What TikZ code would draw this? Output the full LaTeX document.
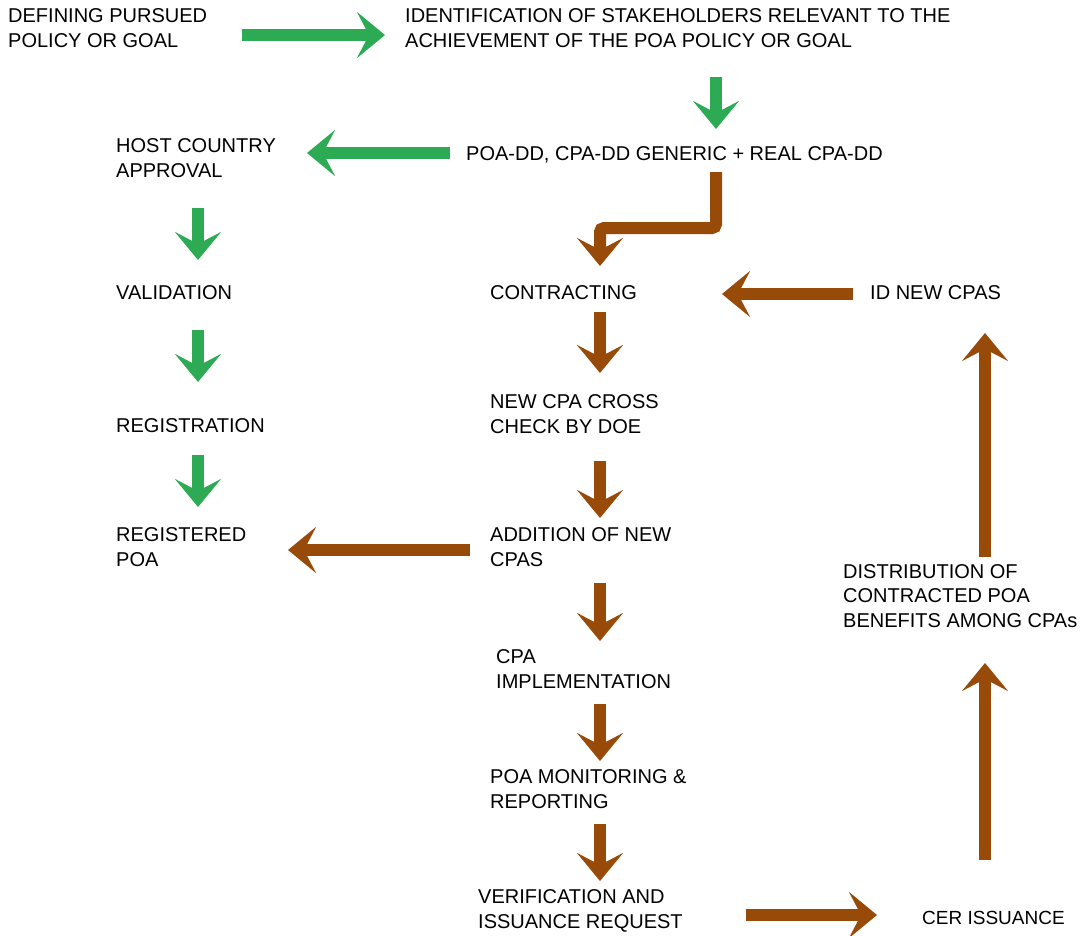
\documentclass[tikz,border=0pt]{standalone}
\usepackage{fontspec}
\setmainfont{Liberation Sans}
\usetikzlibrary{arrows.meta}
\definecolor{poagreen}{RGB}{44,170,84}
\definecolor{cpabrown}{RGB}{152,74,8}

\begin{document}
\begin{tikzpicture}[x=1pt,y=-1pt]
	\tikzset{step text/.style = {anchor=west,align=left,inner sep=0pt,font=\fontsize{20}{24.5}\selectfont}}
	\tikzstyle{flow} = [line width=12pt,-{Stealth[length=28pt,width=46pt,inset=12pt]}]
	\tikzstyle{greenFlow} = [flow,draw=poagreen]
	\tikzstyle{brownFlow} = [flow,draw=cpabrown]
	\useasboundingbox (0,0) rectangle (1091,935);
	%top row
	\node[step text] (goal) at (8,28) {DEFINING PURSUED\\POLICY OR GOAL};
	\node[step text] (stake) at (405,28) {IDENTIFICATION OF STAKEHOLDERS RELEVANT TO THE\\ACHIEVEMENT OF THE POA POLICY OR GOAL};
	%left column
	\node[step text] (host) at (116,158) {HOST COUNTRY\\APPROVAL};
	\node[step text] (valid) at (116,293) {VALIDATION};
	\node[step text] (regis) at (116,426) {REGISTRATION};
	\node[step text] (regpoa) at (116,547) {REGISTERED\\POA};
	%middle column
	\node[step text] (dd) at (466,155) {POA-DD, CPA-DD GENERIC + REAL CPA-DD};
	\node[step text] (contract) at (490,293) {CONTRACTING};
	\node[step text] (cross) at (490,414) {NEW CPA CROSS\\CHECK BY DOE};
	\node[step text] (addcpa) at (490,547) {ADDITION OF NEW\\CPAS};
	\node[step text] (impl) at (496,669) {CPA\\IMPLEMENTATION};
	\node[step text] (monit) at (490,789) {POA MONITORING \&\\REPORTING};
	\node[step text] (verif) at (478,911) {VERIFICATION AND\\ISSUANCE REQUEST};
	%right column
	\node[step text] (idnew) at (870,293) {ID NEW CPAS};
	\node[step text] (distr) at (843,596) {DISTRIBUTION OF\\CONTRACTED POA\\BENEFITS AMONG CPAs};
	\node[step text,font=\fontsize{19}{24}\selectfont] (cer) at (922,918) {CER ISSUANCE};
	%arrow ends
	\coordinate (g1a) at (242,35);  \coordinate (g1b) at (385,35);
	\coordinate (g2a) at (716,77);  \coordinate (g2b) at (716,129);
	\coordinate (g3a) at (450,153); \coordinate (g3b) at (307,153);
	\coordinate (g4a) at (198,208); \coordinate (g4b) at (198,260);
	\coordinate (g5a) at (198,330); \coordinate (g5b) at (198,382);
	\coordinate (g6a) at (198,455); \coordinate (g6b) at (198,507);
	\coordinate (b1a) at (716,172); \coordinate (b1m) at (716,228);
	\coordinate (b1n) at (600,228); \coordinate (b1b) at (600,266);
	\coordinate (b2a) at (853,294); \coordinate (b2b) at (722,294);
	\coordinate (b3a) at (600,312); \coordinate (b3b) at (600,373);
	\coordinate (b4a) at (600,461); \coordinate (b4b) at (600,518);
	\coordinate (b5a) at (470,550); \coordinate (b5b) at (288,550);
	\coordinate (b6a) at (600,583); \coordinate (b6b) at (600,641);
	\coordinate (b7a) at (600,704); \coordinate (b7b) at (600,761);
	\coordinate (b8a) at (600,824); \coordinate (b8b) at (600,881);
	\coordinate (b9a) at (746,915); \coordinate (b9b) at (877,915);
	\coordinate (b10a) at (985,860); \coordinate (b10b) at (985,663);
	\coordinate (b11a) at (985,557); \coordinate (b11b) at (985,333);
	%green path
	\draw[greenFlow] (g1a) -- (g1b);
	\draw[greenFlow] (g2a) -- (g2b);
	\draw[greenFlow] (g3a) -- (g3b);
	\draw[greenFlow] (g4a) -- (g4b);
	\draw[greenFlow] (g5a) -- (g5b);
	\draw[greenFlow] (g6a) -- (g6b);
	%brown path
	\draw[brownFlow,rounded corners=4pt] (b1a) -- (b1m) -- (b1n) -- (b1b);
	\draw[brownFlow] (b2a) -- (b2b);
	\draw[brownFlow] (b3a) -- (b3b);
	\draw[brownFlow] (b4a) -- (b4b);
	\draw[brownFlow] (b5a) -- (b5b);
	\draw[brownFlow] (b6a) -- (b6b);
	\draw[brownFlow] (b7a) -- (b7b);
	\draw[brownFlow] (b8a) -- (b8b);
	\draw[brownFlow] (b9a) -- (b9b);
	\draw[brownFlow] (b10a) -- (b10b);
	\draw[brownFlow] (b11a) -- (b11b);
\end{tikzpicture}
\end{document}
